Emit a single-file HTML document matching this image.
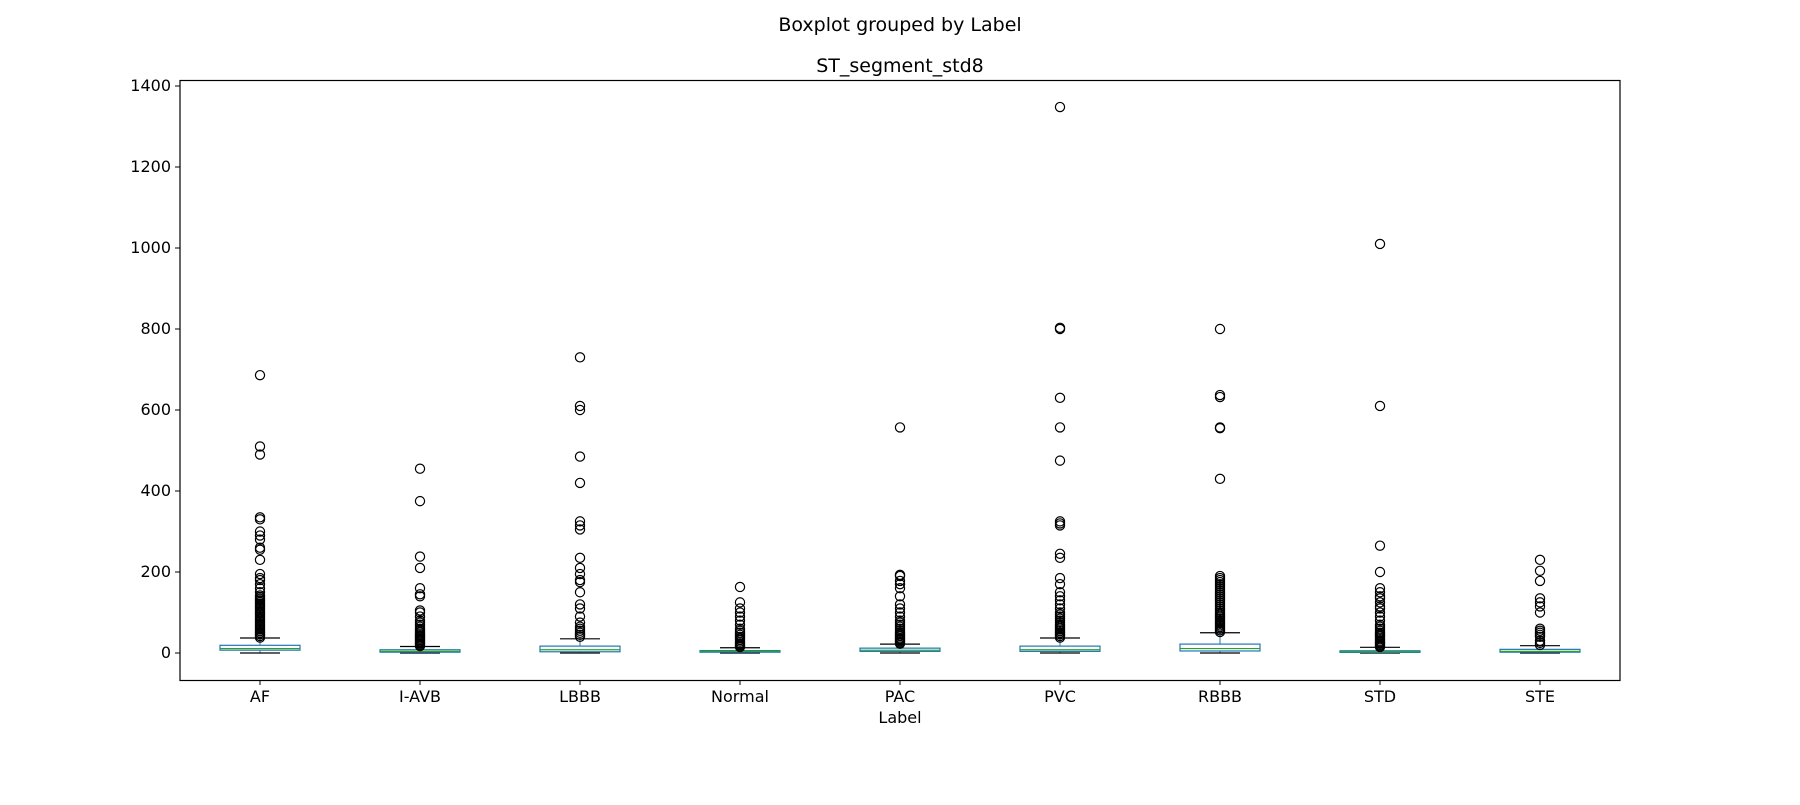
<!DOCTYPE html>
<html><head><meta charset="utf-8"><style>
body{margin:0;background:#fff;}
svg text{font-family:"DejaVu Sans","Liberation Sans",sans-serif;fill:#000;}
</style></head><body>
<svg id="chart" width="1800" height="800" viewBox="0 0 1800 800" xmlns="http://www.w3.org/2000/svg">
<rect width="1800" height="800" fill="#fff"/>
<text x="900" y="31" font-size="19" text-anchor="middle">Boxplot grouped by Label</text>
<text x="900" y="72" font-size="19" text-anchor="middle">ST_segment_std8</text>
<text x="900" y="723" font-size="16" text-anchor="middle">Label</text>
<g id="plot"></g>
<rect x="180" y="80.5" width="1440" height="600" fill="none" stroke="#000" stroke-width="1.2"/>
</svg>
<script>
const categories=["AF","I-AVB","LBBB","Normal","PAC","PVC","RBBB","STD","STE"];
const q1=[7,2,3,2,4,4,5,1.5,2];
const medians=[11,4,8,4,7,8,11,3,4];
const q3=[19,8,17,6,12,17,22,5.5,9];
const whiskLo=[0,0,0,0,0,0,0,0,0];
const whiskHi=[37,16,35,13,22,37,50,14,18];
const fliers=[
[38,42,46,50,54,58,62,66,70,74,78,82,86,90,94,98,102,106,110,114,118,122,126,130,134,138,142,150,160,170,180,185,195,230,255,260,280,290,300,330,335,490,510,686],
[17,20,23,26,29,32,35,38,41,44,48,52,56,60,65,70,75,80,90,100,105,140,145,160,210,238,375,455],
[40,45,50,55,60,65,75,90,110,120,150,175,180,195,210,235,305,315,325,420,485,600,610,730],
[15,18,21,24,28,32,36,40,45,50,55,60,70,80,90,100,110,125,163],
[23,26,29,32,35,38,42,46,50,55,60,65,70,75,80,90,100,110,120,140,160,170,178,190,193,557],
[38,42,46,50,54,58,62,66,70,75,80,85,90,95,100,110,120,130,140,150,170,185,235,245,315,320,325,475,557,630,800,803,1348],
[52,56,60,64,68,72,76,80,84,88,92,96,100,105,110,115,120,125,130,135,140,145,150,155,160,165,170,175,180,185,190,430,555,557,632,637,800],
[15,18,21,24,27,30,34,38,42,46,50,55,60,65,70,80,90,100,110,115,125,135,140,150,160,200,265,610,1010],
[20,25,30,40,45,50,55,60,100,115,125,135,178,203,230]
];
const yTicks=[0,200,400,600,800,1000,1200,1400];
const NS="http://www.w3.org/2000/svg";
const plot=document.getElementById('plot');
const X0=180,W=1440,Y0=653,YS=0.405;
const xs=i=>X0+(i+0.5)*W/categories.length;
const ys=v=>Y0-v*YS;
function mk(tag,attrs){const e=document.createElementNS(NS,tag);for(const k in attrs)e.setAttribute(k,attrs[k]);plot.appendChild(e);return e;}
yTicks.forEach(t=>{
  const l=mk('line',{x1:175,x2:180,y1:ys(t),y2:ys(t),stroke:'#000','stroke-width':1});
  
  
  const tx=mk('text',{x:171,y:ys(t)+5,'font-size':16,'text-anchor':'end'});tx.textContent=t;
  
  
});
categories.forEach((c,i)=>{
  const x=xs(i),hw=40,cw=20;
  const tk=mk('line',{x1:x,x2:x,y1:680,y2:685,stroke:'#000','stroke-width':1});
  
  
  const tl=mk('text',{x:x,y:702,'font-size':16,'text-anchor':'middle'});tl.textContent=c;
  
  
  const w1=mk('line',{x1:x,x2:x,y1:ys(q1[i]),y2:ys(whiskLo[i]),stroke:'#1f77b4','stroke-width':1});
  
  
  const w2=mk('line',{x1:x,x2:x,y1:ys(q3[i]),y2:ys(whiskHi[i]),stroke:'#1f77b4','stroke-width':1});
  
  
  const c1=mk('line',{x1:x-cw,x2:x+cw,y1:ys(whiskLo[i]),y2:ys(whiskLo[i]),stroke:'#000','stroke-width':1.2});
  
  
  const c2=mk('line',{x1:x-cw,x2:x+cw,y1:ys(whiskHi[i]),y2:ys(whiskHi[i]),stroke:'#000','stroke-width':1.2});
  
  
  const b=mk('rect',{x:x-hw,y:ys(q3[i]),width:2*hw,height:Math.max(ys(q1[i])-ys(q3[i]),1),fill:'none',stroke:'#1f77b4','stroke-width':1.2});
  
  
  const m=mk('line',{x1:x-hw,x2:x+hw,y1:ys(medians[i]),y2:ys(medians[i]),stroke:'#2ca02c','stroke-width':1.2});
  
  
  fliers[i].forEach(v=>{
    const p=mk('circle',{cx:x,cy:ys(v),r:4.6,fill:'none',stroke:'#000','stroke-width':1.2});
    
    
  });
});
</script>
</body></html>
